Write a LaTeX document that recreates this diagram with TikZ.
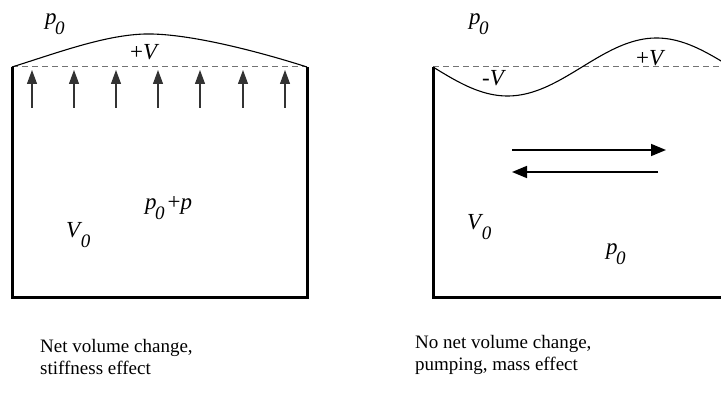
\documentclass[tikz,border=0pt]{standalone}
\usepackage{fontspec}
\setmainfont{Liberation Serif}
\usetikzlibrary{arrows.meta}
\newcommand{\sym}[2]{\textit{#1}\kern-1.5pt\raisebox{-0.42em}{\fontsize{19}{19}\selectfont\textit{#2}}}
\tikzset{
  wall/.style={line width=3pt, line join=miter},
  surf/.style={line width=1.1pt},
  ref/.style={dashed, dash pattern=on 6pt off 4pt, draw=black!55, line width=1pt},
  push/.style={-{Triangle[length=14pt,width=10pt]}, line width=1.2pt, draw=black!80},
  flow/.style={-{Triangle[length=15pt,width=12pt]}, line width=1.6pt},
  lab/.style={inner sep=0pt, anchor=base west, font=\fontsize{23}{23}\selectfont},
  captext/.style={inner sep=0pt, anchor=north west, align=left, font=\fontsize{19}{22}\selectfont}
}
\begin{document}
\begin{tikzpicture}[x=1pt,y=-1pt]
\useasboundingbox (0,0) rectangle (721,395);
\clip (0,0) rectangle (721,395);
% left box
\coordinate (LTL) at (12,67);
\coordinate (LTR) at (307,67);
\coordinate (LBL) at (12,298);
\coordinate (LBR) at (307,298);
\draw[ref] (LTL) -- (LTR);
\draw[wall] (LTL) -- (LBL) -- (LBR) -- (LTR);
\draw[surf] (LTL) .. controls (60,52) and (110,33) .. (152,34) .. controls (195,35) and (260,52) .. (LTR);
\foreach \i/\x in {1/32,2/74,3/116,4/158,5/200,6/243,7/285}{
  \coordinate (pa\i) at (\x,108);
  \coordinate (pb\i) at (\x,70);
  \draw[push] (pa\i) -- (pb\i);
}
\node[lab] (lp0) at (45,25) {\sym{p}{0}};
\node[lab] (lV) at (130,60) {+\textit{V}};
\node[lab] (lp) at (145,210) {\sym{p}{0}\kern3pt+\textit{p}};
\node[lab] (lV0) at (66,238) {\sym{V}{0}};
\node[captext] (lcap) at (40,339) {Net volume change,\\stiffness effect};
% right box
\coordinate (RTL) at (433,67);
\coordinate (RTR) at (730,67);
\coordinate (RBL) at (433,298);
\coordinate (RBR) at (730,298);
\draw[ref] (RTL) -- (RTR);
\draw[wall] (RTL) -- (RBL) -- (RBR);
\draw[surf, shift={(433,0)}] plot[domain=0:302, samples=80, smooth] (\x,{67+29*sin(1.20805*\x)});
\coordinate (fa) at (512,150);
\coordinate (fb) at (666,150);
\coordinate (fc) at (658,172);
\coordinate (fd) at (512,172);
\draw[flow] (fa) -- (fb);
\draw[flow] (fc) -- (fd);
\node[lab] (rp0) at (469,25) {\sym{p}{0}};
\node[lab] (rmV) at (482,86) {-\textit{V}};
\node[lab] (rpV) at (636,66) {+\textit{V}};
\node[lab] (rV0) at (467,230) {\sym{V}{0}};
\node[lab] (rp) at (606,255) {\sym{p}{0}};
\node[captext] (rcap) at (415,335) {No net volume change,\\pumping, mass effect};
\end{tikzpicture}
\end{document}
